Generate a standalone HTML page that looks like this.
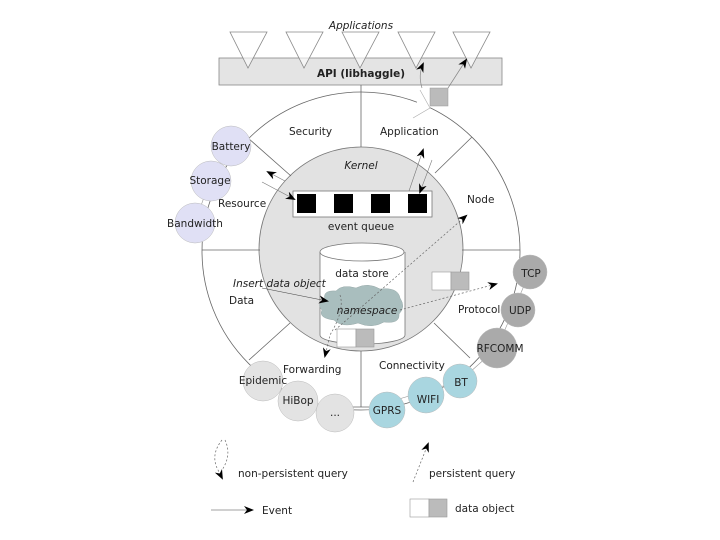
<!DOCTYPE html>
<html><head><style>body{margin:0;background:#fff}svg{display:block}text{font-family:"DejaVu Sans","Liberation Sans",sans-serif;font-size:10.5px;fill:#222}</style></head><body>
<svg width="720" height="540" viewBox="0 0 720 540">
<defs><marker id="a" markerWidth="10" markerHeight="8" refX="8" refY="4" orient="auto" markerUnits="userSpaceOnUse"><path d="M0,0 L10,4 L0,8 L3,4z" fill="#000"/></marker></defs>
<circle cx="361" cy="251" r="159" fill="none" stroke="#666" stroke-width="0.8"/>
<rect x="219" y="58" width="283" height="27" fill="#e4e4e4" stroke="#888" stroke-width="0.8"/>
<text x="361" y="77" text-anchor="middle" style="font-weight:bold">API (libhaggle)</text>
<text x="361" y="29" text-anchor="middle" style="font-style:italic">Applications</text>
<g fill="#fff" stroke="#888" stroke-width="0.8" fill-opacity="0.6">
<path d="M230,32 L267,32 L248,68z"/><path d="M286,32 L323,32 L304,68z"/><path d="M342,32 L379,32 L360,68z"/><path d="M398,32 L435,32 L416,68z"/><path d="M453,32 L490,32 L471,68z"/>
</g>
<circle cx="361" cy="249" r="102" fill="#e2e2e2" stroke="#777" stroke-width="0.8"/>
<g stroke="#666" stroke-width="0.8">
<line x1="361" y1="85" x2="361" y2="147"/><line x1="361" y1="351" x2="361" y2="407"/>
<line x1="202" y1="250" x2="260" y2="250"/><line x1="462" y1="250" x2="520" y2="250"/>
<line x1="248" y1="138" x2="291" y2="176"/><line x1="472" y1="137" x2="435" y2="173"/>
<line x1="249" y1="360" x2="290" y2="323"/><line x1="434" y1="323" x2="470" y2="358"/>
<line x1="350" y1="407" x2="372" y2="407"/>
</g>
<rect x="430" y="88" width="18" height="18" fill="#bbb" stroke="#999" stroke-width="0.5"/>
<path d="M413,118 L430,108 L420,90" fill="#fff" stroke="#aaa" stroke-width="0.6"/>
<path d="M422,88 Q418,75 423,64" fill="none" stroke="#888" stroke-width="0.7" marker-end="url(#a)"/>
<line x1="448" y1="88" x2="466" y2="60" stroke="#888" stroke-width="0.7" marker-end="url(#a)"/>
<rect x="293" y="191" width="139" height="26" fill="#fff" stroke="#777" stroke-width="0.8"/>
<rect x="297" y="194" width="19" height="19" fill="#000"/><rect x="334" y="194" width="19" height="19" fill="#000"/><rect x="371" y="194" width="19" height="19" fill="#000"/><rect x="408" y="194" width="19" height="19" fill="#000"/>
<text x="361" y="230" text-anchor="middle">event queue</text>
<text x="361" y="169" text-anchor="middle" style="font-style:italic">Kernel</text>
<text x="289" y="135">Security</text>
<text x="380" y="135">Application</text>
<text x="467" y="203">Node</text>
<text x="218" y="207">Resource</text>
<text x="229" y="304">Data</text>
<text x="458" y="313">Protocol</text>
<text x="379" y="369">Connectivity</text>
<text x="283" y="373">Forwarding</text>
<g stroke="#777" stroke-width="0.6" fill="none">
<line x1="285" y1="181" x2="268" y2="172" marker-end="url(#a)"/>
<line x1="262" y1="182" x2="294" y2="199" marker-end="url(#a)"/>
<line x1="409" y1="191" x2="423" y2="150" marker-end="url(#a)"/>
<line x1="432" y1="160" x2="420" y2="192" marker-end="url(#a)"/>
</g>
<path d="M320,252 L320,335 A42,9 0 0 0 405,335 L405,252" fill="#fff" stroke="#777" stroke-width="0.8"/>
<ellipse cx="362" cy="252" rx="42" ry="9" fill="#fff" stroke="#777" stroke-width="0.8"/>
<text x="362" y="277" text-anchor="middle">data store</text>
<path d="M325,300 Q322,290 336,291 Q342,284 356,288 Q368,282 380,289 Q398,287 400,298 Q406,307 399,314 Q400,324 384,322 Q372,329 358,323 Q342,328 334,320 Q318,318 322,310 Q316,304 325,300z" fill="#a9bebe" stroke="#9aa" stroke-width="0.5"/>
<text x="367" y="314" text-anchor="middle" style="font-style:italic">namespace</text>
<text x="233" y="287" style="font-style:italic">Insert data object</text>
<line x1="262" y1="288" x2="327" y2="301" stroke="#444" stroke-width="0.6" marker-end="url(#a)"/>
<rect x="337" y="329" width="19" height="18" fill="#fff" stroke="#999" stroke-width="0.6"/><rect x="356" y="329" width="18" height="18" fill="#bbb" stroke="#999" stroke-width="0.6"/>
<rect x="432" y="272" width="19" height="18" fill="#fff" stroke="#999" stroke-width="0.6"/><rect x="451" y="272" width="18" height="18" fill="#bbb" stroke="#999" stroke-width="0.6"/>
<g stroke="#666" stroke-width="0.7" stroke-dasharray="2,2" fill="none">
<line x1="400" y1="310" x2="496" y2="284" marker-end="url(#a)"/>
<line x1="335" y1="330" x2="466" y2="216" marker-end="url(#a)"/>
<path d="M340,295 Q345,310 330,335 L325,356" marker-end="url(#a)"/>
</g>
<g stroke="#999" stroke-width="0.6">
<line x1="210" y1="180" x2="231" y2="146"/><line x1="195" y1="223" x2="210" y2="180"/>
<line x1="262" y1="381" x2="334" y2="413"/><line x1="372" y1="407" x2="460" y2="381"/>
<line x1="497" y1="348" x2="530" y2="272"/><line x1="460" y1="381" x2="497" y2="348"/>
</g>
<g stroke="#bbb" stroke-width="0.5">
<circle cx="231" cy="146" r="20" fill="#e0e0f5"/><circle cx="211" cy="181" r="20" fill="#e0e0f5"/><circle cx="195" cy="223" r="20" fill="#e0e0f5"/>
<circle cx="263" cy="381" r="20" fill="#e3e3e3"/><circle cx="298" cy="401" r="20" fill="#e3e3e3"/><circle cx="335" cy="413" r="19" fill="#e3e3e3"/>
<circle cx="387" cy="410" r="18" fill="#a9d6e0"/><circle cx="426" cy="395" r="18" fill="#a9d6e0"/><circle cx="460" cy="381" r="17" fill="#a9d6e0"/>
<circle cx="530" cy="272" r="17" fill="#aaa"/><circle cx="518" cy="310" r="17" fill="#aaa"/><circle cx="497" cy="348" r="20" fill="#aaa"/>
</g>
<text x="231" y="150" text-anchor="middle">Battery</text>
<text x="210" y="184" text-anchor="middle">Storage</text>
<text x="195" y="227" text-anchor="middle">Bandwidth</text>
<text x="263" y="384" text-anchor="middle">Epidemic</text>
<text x="298" y="404" text-anchor="middle">HiBop</text>
<text x="335" y="416" text-anchor="middle">...</text>
<text x="387" y="414" text-anchor="middle">GPRS</text>
<text x="428" y="403" text-anchor="middle">WIFI</text>
<text x="461" y="386" text-anchor="middle">BT</text>
<text x="531" y="277" text-anchor="middle">TCP</text>
<text x="520" y="314" text-anchor="middle">UDP</text>
<text x="500" y="352" text-anchor="middle">RFCOMM</text>
<path d="M222,440 Q210,455 218,470 L222,478" fill="none" stroke="#666" stroke-width="0.7" stroke-dasharray="2,2" marker-end="url(#a)"/>
<path d="M225,440 Q232,455 222,470" fill="none" stroke="#666" stroke-width="0.7" stroke-dasharray="2,2"/>
<text x="238" y="477">non-persistent query</text>
<line x1="413" y1="482" x2="428" y2="444" stroke="#666" stroke-width="0.7" stroke-dasharray="2,2" marker-end="url(#a)"/>
<text x="429" y="477">persistent query</text>
<line x1="211" y1="510" x2="252" y2="510" stroke="#444" stroke-width="0.6" marker-end="url(#a)"/>
<text x="262" y="514">Event</text>
<rect x="410" y="499" width="19" height="18" fill="#fff" stroke="#999" stroke-width="0.6"/><rect x="429" y="499" width="18" height="18" fill="#bbb" stroke="#999" stroke-width="0.6"/>
<text x="455" y="512">data object</text>
</svg>
</body></html>
